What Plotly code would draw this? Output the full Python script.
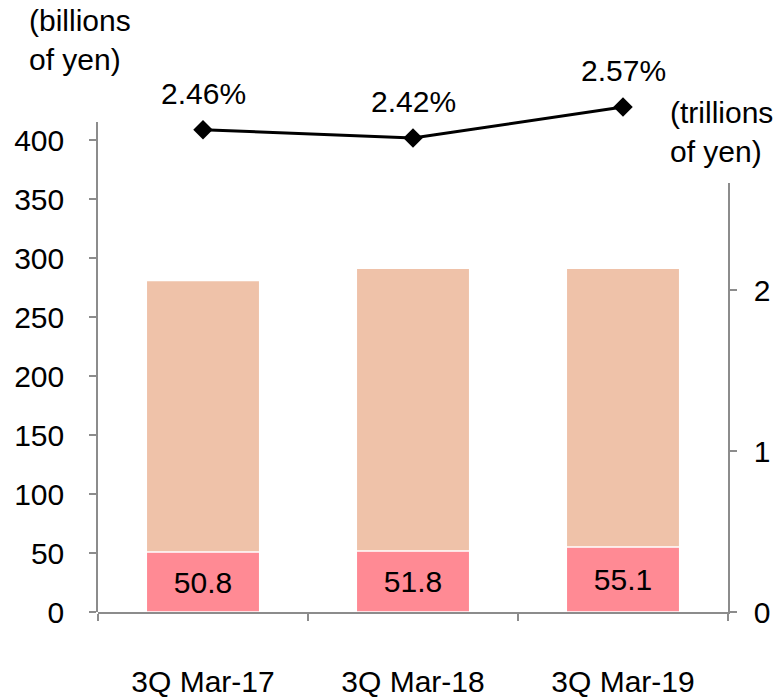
import plotly.graph_objects as go

categories = ["3Q Mar-17", "3Q Mar-18", "3Q Mar-19"]
interest_income = [50.8, 51.8, 55.1]          # billions of yen (left axis)
loan_balance = [2.06, 2.135, 2.135]            # trillions of yen (right axis)
yield_pct = [2.46, 2.42, 2.57]                 # %
left_ticks = [0, 50, 100, 150, 200, 250, 300, 350, 400]
right_ticks = [0, 1, 2]

FONT = "Arial, 'Liberation Sans', sans-serif"
FS = 30
GRAY = "#8c8c8c"
PINK = "#FF8A94"
PEACH = "#EFC2A9"

fig = go.Figure()

# balance bar (right axis, drawn first / underneath)
fig.add_trace(go.Bar(
    x=categories, y=loan_balance, yaxis="y",
    marker=dict(color=PEACH, line=dict(color="white", width=1.5)),
    width=0.54, offset=-0.27, hoverinfo="skip", showlegend=False,
))
# interest income bar (left axis)
fig.add_trace(go.Bar(
    x=categories, y=interest_income, yaxis="y2",
    marker=dict(color=PINK, line=dict(color="white", width=1.5)),
    width=0.54, offset=-0.27,
    text=[f"{v:.1f}" for v in interest_income],
    textposition="inside", insidetextanchor="middle", textangle=0,
    constraintext="none",
    textfont=dict(family=FONT, size=FS, color="black"),
    hoverinfo="skip", showlegend=False,
))
# yield line
fig.add_trace(go.Scatter(
    x=categories, y=yield_pct, yaxis="y3",
    mode="lines+markers",
    line=dict(color="black", width=3),
    marker=dict(symbol="diamond", size=15, color="black"),
    cliponaxis=False, hoverinfo="skip", showlegend=False,
))

annotations = [
    dict(x=c, y=v, xref="x", yref="y3", text=f"{v:.2f}%", showarrow=False,
         yanchor="middle", yshift=36, font=dict(family=FONT, size=FS, color="black"))
    for c, v in zip(categories, yield_pct)
]
annotations += [
    dict(text="(billions<br>of yen)", xref="paper", yref="paper",
         x=(27 - 98) / 630, y=(612 - 2) / 572, xanchor="left", yanchor="top",
         align="left", showarrow=False, font=dict(family=FONT, size=FS)),
    dict(text="(trillions<br>of yen)", xref="paper", yref="paper",
         x=(668 - 98) / 630, y=(612 - 94) / 572, xanchor="left", yanchor="top",
         align="left", showarrow=False, font=dict(family=FONT, size=FS)),
]

fig.update_layout(
    width=773, height=700,
    margin=dict(l=98, r=45, t=40, b=88),
    paper_bgcolor="white", plot_bgcolor="rgba(0,0,0,0)",
    font=dict(family=FONT, size=FS, color="black"),
    barmode="overlay",
    xaxis=dict(
        type="category", range=[-0.5, 2.5], anchor="y", automargin=False,
        showline=True, linecolor=GRAY, linewidth=1.5,
        ticks="outside", tickson="boundaries", ticklen=7, tickcolor=GRAY, tickwidth=1.5,
        ticklabelstandoff=42, showgrid=False, zeroline=False,
        tickfont=dict(family=FONT, size=FS),
    ),
    yaxis=dict(
        domain=[0, 0.75], range=[0, 2.665], side="right", anchor="x", automargin=False,
        tickvals=right_ticks, ticktext=[str(t) for t in right_ticks],
        showline=True, linecolor=GRAY, linewidth=1.5,
        ticks="outside", ticklen=7, tickcolor=GRAY, tickwidth=1.5,
        ticklabelstandoff=11, showgrid=False, zeroline=False,
        tickfont=dict(family=FONT, size=FS),
    ),
    yaxis2=dict(
        domain=[0, 0.8566], range=[0, 415.3], side="left", anchor="x", automargin=False,
        tickvals=left_ticks, ticktext=[str(t) for t in left_ticks],
        showline=True, linecolor=GRAY, linewidth=1.5,
        ticks="outside", ticklen=7, tickcolor=GRAY, tickwidth=1.5,
        ticklabelstandoff=19, showgrid=False, zeroline=False,
        tickfont=dict(family=FONT, size=FS),
    ),
    yaxis3=dict(
        domain=[0, 1], range=[0.127, 2.894], anchor="x", visible=False,
        showgrid=False, zeroline=False, automargin=False,
    ),
    annotations=annotations,
)

fig.write_html(
    "out.html",
    config={"displayModeBar": False},
    post_script="document.body.style.margin='0';document.body.style.overflow='hidden';",
)
